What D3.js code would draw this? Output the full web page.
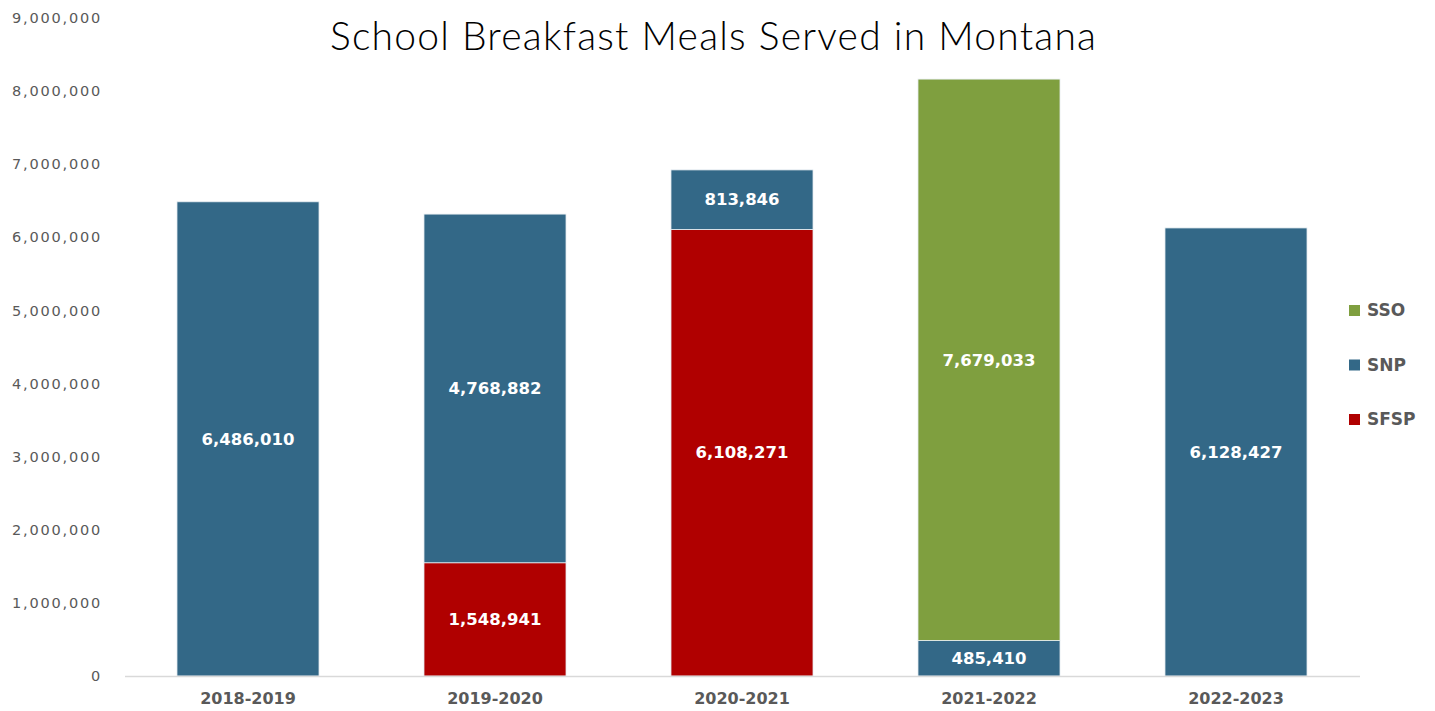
<!DOCTYPE html>
<html>
<head>
<meta charset="utf-8">
<script src="https://cdn.jsdelivr.net/npm/d3@7"></script>
<style>
  body { margin: 0; background: #fff; }
  .tick-y { font-family: "DejaVu Sans", sans-serif; font-size: 14.5px; fill: #595959; letter-spacing: 1.8px; }
  .cat { font-family: "DejaVu Sans", sans-serif; font-weight: bold; font-size: 16px; fill: #595959; }
  .val { font-family: "DejaVu Sans", sans-serif; font-weight: bold; font-size: 16.5px; fill: #fff; }
  .leg { font-family: "DejaVu Sans", sans-serif; font-weight: bold; font-size: 17px; fill: #595959; }
  .title { font-family: "Lato", sans-serif; font-weight: 300; font-size: 39px; fill: #000; }
</style>
</head>
<body>
<div id="container"></div>
<script>
const WIDTH = 1435, HEIGHT = 711;

// datos
const years = ["2018-2019", "2019-2020", "2020-2021", "2021-2022", "2022-2023"];
const sfsp = [0, 1548941, 6108271, 0, 0];
const snp = [6486010, 4768882, 813846, 485410, 6128427];
const sso = [0, 0, 0, 7679033, 0];
const seriesNames = ["SFSP", "SNP", "SSO"];
const colors = { SFSP: "#B00000", SNP: "#336887", SSO: "#7F9F3F" };
const yTicks = [0, 1000000, 2000000, 3000000, 4000000, 5000000, 6000000, 7000000, 8000000, 9000000];

const rows = years.map((y, i) => ({ year: y, SFSP: sfsp[i], SNP: snp[i], SSO: sso[i] }));

const svg = d3.select("#container")
    .append("svg")
    .attr("width", WIDTH)
    .attr("height", HEIGHT);

const xScale = d3.scaleBand()
    .domain(years)
    .range([124.5, 1359.5])
    .paddingInner(0.425)
    .paddingOuter(0.2125);

const yScale = d3.scaleLinear()
    .domain([0, 9000000])
    .range([676, 18]);

const stacked = d3.stack().keys(seriesNames)(rows);

// titulo
svg.append("text")
    .attr("class", "title")
    .attr("x", 713)
    .attr("y", 50)
    .attr("text-anchor", "middle")
    .attr("textLength", 766)
    .attr("lengthAdjust", "spacing")
    .text("School Breakfast Meals Served in Montana");

// eje Y (solo etiquetas)
const yAxis = d3.axisLeft(yScale)
    .tickValues(yTicks)
    .tickFormat(d3.format(","))
    .tickSize(0)
    .tickPadding(0);

const gy = svg.append("g")
    .attr("transform", "translate(102,0)")
    .call(yAxis);
gy.select(".domain").remove();
gy.selectAll("text").attr("class", "tick-y").attr("font-family", null).attr("font-size", null).attr("fill", null);

// barras
const layers = svg.append("g").selectAll("g")
    .data(stacked)
    .join("g")
    .attr("fill", d => colors[d.key]);

layers.selectAll("rect")
    .data(d => d.filter(s => s[1] - s[0] > 0))
    .join("rect")
    .attr("x", d => xScale(d.data.year))
    .attr("y", d => yScale(d[1]))
    .attr("width", xScale.bandwidth())
    .attr("height", d => yScale(d[0]) - yScale(d[1]))
    .attr("stroke", "#e8eef2")
    .attr("stroke-width", 0.8);

// etiquetas de valores
stacked.forEach(layer => {
    svg.append("g").selectAll("text")
        .data(layer.filter(s => s[1] - s[0] > 0))
        .join("text")
        .attr("class", "val")
        .attr("x", d => xScale(d.data.year) + xScale.bandwidth() / 2)
        .attr("y", d => (yScale(d[0]) + yScale(d[1])) / 2)
        .attr("dy", "0.35em")
        .attr("text-anchor", "middle")
        .text(d => d3.format(",")(d[1] - d[0]));
});

// eje X
const xAxis = d3.axisBottom(xScale).tickSize(0).tickPadding(17);
const gx = svg.append("g")
    .attr("transform", "translate(0,676)")
    .call(xAxis);
gx.select(".domain").attr("stroke", "#d9d9d9").attr("stroke-width", 1.3);
gx.selectAll("text").attr("class", "cat").attr("font-family", null).attr("font-size", null).attr("fill", null);

// leyenda
const legendItems = ["SSO", "SNP", "SFSP"];
const legendY = d3.scalePoint().domain(legendItems).range([310, 419]);
const leg = svg.append("g").selectAll("g")
    .data(legendItems)
    .join("g")
    .attr("transform", d => `translate(1349,${legendY(d)})`);
leg.append("rect")
    .attr("x", 0).attr("y", -5)
    .attr("width", 11).attr("height", 11)
    .attr("fill", d => colors[d]);
leg.append("text")
    .attr("class", "leg")
    .attr("x", 18)
    .attr("dy", "0.38em")
    .text(d => d);
</script>
</body>
</html>
